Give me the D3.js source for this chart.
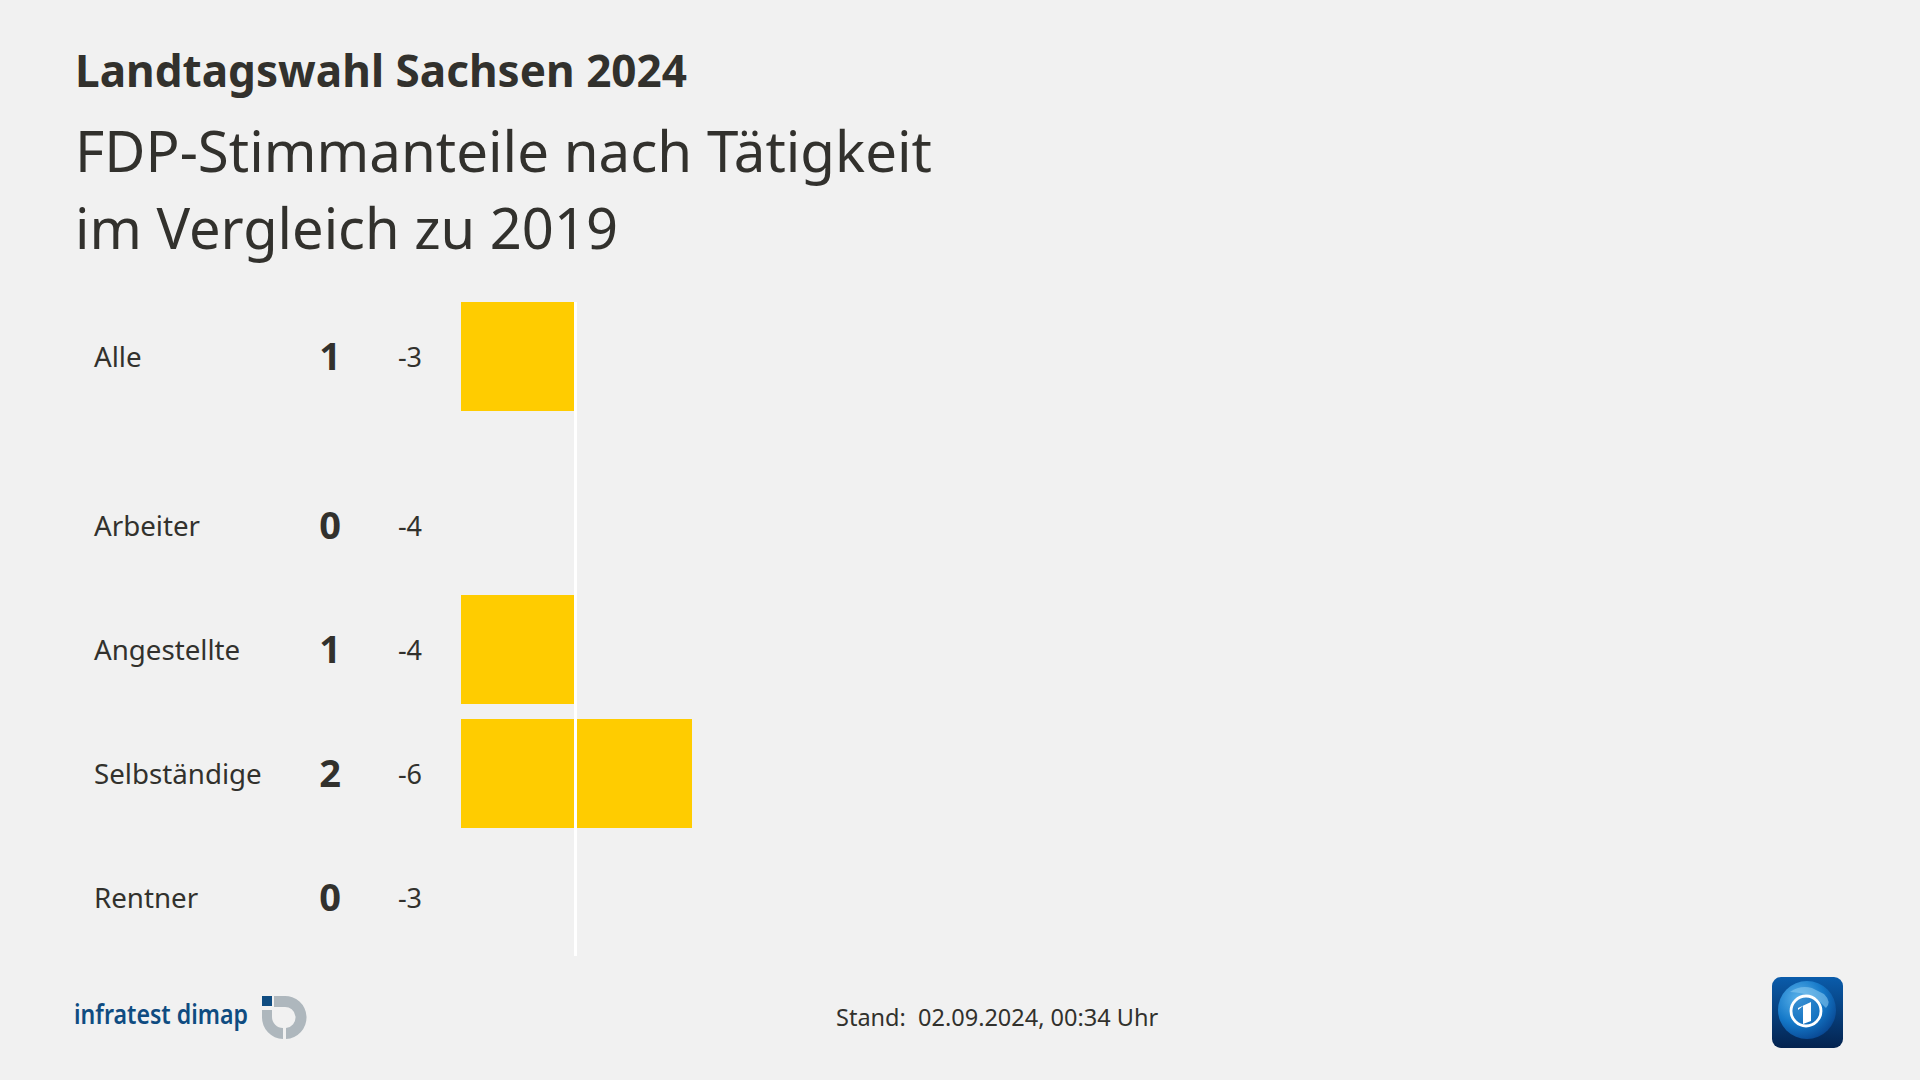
<!DOCTYPE html>
<html lang="de"><head><meta charset="utf-8">
<script src="https://cdn.jsdelivr.net/npm/d3@7/dist/d3.min.js"></script>
<style>html,body{margin:0;padding:0;background:#f1f1f1;overflow:hidden}svg{display:block}text{font-family:"Noto Sans",sans-serif;fill:#32312d}</style>
</head><body><svg id="c" width="1920" height="1080"></svg>
<script>
const categories=["Alle","Arbeiter","Angestellte","Selbständige","Rentner"];
const shares=[1,0,1,2,0];
const changes=[-3,-4,-4,-6,-3];
const rowCentres=[356.5,525.5,649.5,773.5,897.5];
const svg=d3.select("#c");
const x=d3.scaleLinear().domain([0,1,2]).range([461,575.5,692]);
const barH=109;
const t=(s,px,py,size,weight,anchor,fill)=>svg.append("text").attr("x",px).attr("y",py).attr("font-size",size).attr("font-weight",weight||400).attr("text-anchor",anchor||"start").style("fill",fill||null).text(s);
t("Landtagswahl Sachsen 2024",75,87,44.5,700).attr("textLength",612).attr("lengthAdjust","spacingAndGlyphs");
t("FDP-Stimmanteile nach Tätigkeit",75,171.5,56.5,400).attr("textLength",857).attr("lengthAdjust","spacingAndGlyphs");
t("im Vergleich zu 2019",75,249,56.5,400).attr("textLength",543).attr("lengthAdjust","spacingAndGlyphs");
svg.selectAll("rect.bar").data(categories).join("rect").attr("class","bar")
 .attr("x",x(0)).attr("y",(d,i)=>rowCentres[i]-barH/2).attr("width",(d,i)=>x(shares[i])-x(0)).attr("height",barH).attr("fill","#ffcc00");
svg.append("line").attr("x1",x(1)).attr("x2",x(1)).attr("y1",302).attr("y2",956).attr("stroke","#fff").attr("stroke-width",3);
categories.forEach((c,i)=>{
 t(c,94,rowCentres[i]+10,27.7);
 t(shares[i],330,rowCentres[i]+13,38,700,"middle");
 t(changes[i],410,rowCentres[i]+10,27,400,"middle");
});
t("Stand:  02.09.2024, 00:34 Uhr",836,1026,23.5).style("white-space","pre");
// infratest dimap logo
t("infratest dimap",74,1024,27.5,600,"start","#0f4c81").attr("textLength",174).attr("lengthAdjust","spacingAndGlyphs");
svg.append("path").attr("fill","#aeb7bd").attr("d","M274,996 L284,996 A21.5,21.5 0 0 1 286,1039 L286,1028 A10.5,10.5 0 0 0 284,1007 L274,1007 Z");
svg.append("path").attr("fill","#aeb7bd").attr("d","M262,1010 L272,1010 L272,1017 A11,11 0 0 0 283,1028 L283,1039 A21.5,21.5 0 0 1 262,1017 Z");
svg.append("rect").attr("x",262).attr("y",996).attr("width",10).attr("height",10).attr("fill","#0f4c81");
// tagesschau icon
const defs=svg.append("defs");
const g1=defs.append("linearGradient").attr("id","bg").attr("x1",0).attr("x2",0).attr("y1",0).attr("y2",1);
g1.append("stop").attr("offset",0).attr("stop-color","#0a5cab");g1.append("stop").attr("offset",1).attr("stop-color","#04234f");
const g2=defs.append("radialGradient").attr("id","gl").attr("cx",.35).attr("cy",.3).attr("r",.8);
g2.append("stop").attr("offset",0).attr("stop-color","#5ab2ea");g2.append("stop").attr("offset",.55).attr("stop-color","#1478c8");g2.append("stop").attr("offset",1).attr("stop-color","#07408a");
const cl=defs.append("clipPath").attr("id","rr");cl.append("rect").attr("x",1772).attr("y",977).attr("width",71).attr("height",71).attr("rx",9);
const ic=svg.append("g").attr("clip-path","url(#rr)");
ic.append("rect").attr("x",1772).attr("y",977).attr("width",71).attr("height",71).attr("fill","url(#bg)");
ic.append("circle").attr("cx",1807).attr("cy",1010).attr("r",29).attr("fill","url(#gl)");
ic.append("path").attr("fill","#8fcdf2").attr("opacity",.55).attr("d","M1790,992 Q1800,985 1812,988 L1824,994 Q1832,1002 1826,1008 L1816,998 Q1802,992 1790,992 Z");
ic.append("circle").attr("cx",1806).attr("cy",1011).attr("r",15).attr("fill","#1a6fbb").attr("opacity",.5);
ic.append("circle").attr("cx",1806).attr("cy",1011).attr("r",15).attr("fill","none").attr("stroke","#fff").attr("stroke-width",2.8);
ic.append("path").attr("fill","#fff").attr("d","M1798,1008 L1811,1002 L1811,1021 L1803,1024 L1803,1006 L1798,1010 Z");
</script></body></html>
